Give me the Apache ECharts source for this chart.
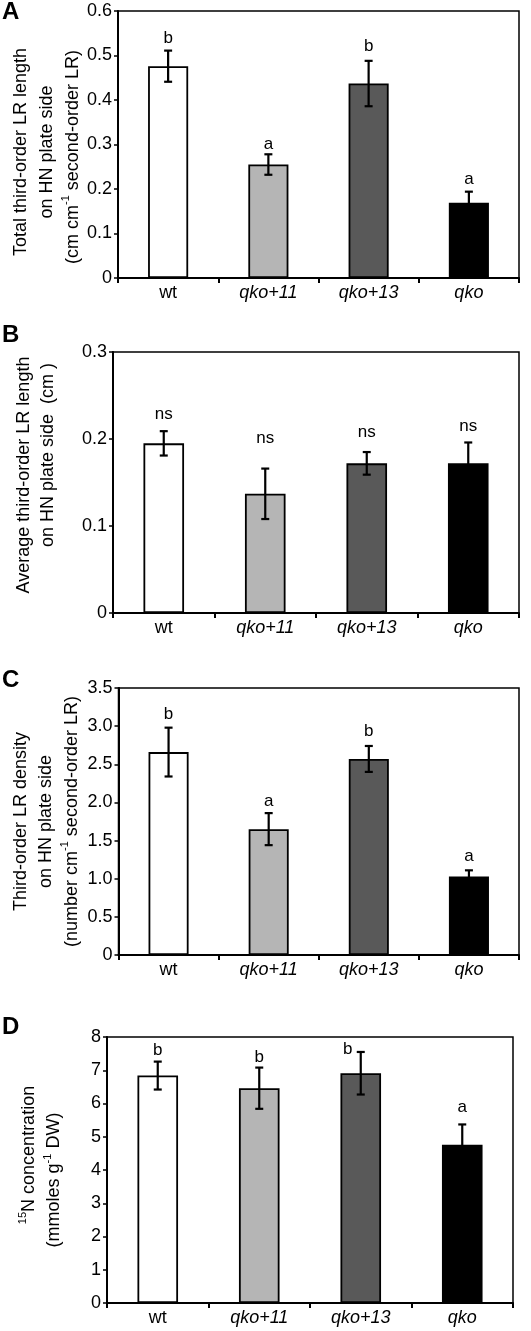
<!DOCTYPE html>
<html><head><meta charset="utf-8">
<script src="https://cdn.jsdelivr.net/npm/echarts@6/dist/echarts.min.js"></script>
<style>html,body{margin:0;padding:0;background:#fff}#c{width:531px;height:1331px}</style>
</head><body><div id="c"></div>
<script>
// ---- data ----
const categories = ['wt', 'qko+11', 'qko+13', 'qko'];

const meanA = [0.476, 0.255, 0.437, 0.169];
const errA  = [0.035, 0.023, 0.051, 0.025];
const lettersA = ['b', 'a', 'b', 'a'];
const ticksA = ['0', '0.1', '0.2', '0.3', '0.4', '0.5', '0.6'];

const meanB = [0.195, 0.137, 0.172, 0.172];
const errB  = [0.014, 0.029, 0.013, 0.024];
const lettersB = ['ns', 'ns', 'ns', 'ns'];
const ticksB = ['0', '0.1', '0.2', '0.3'];

const meanC = [2.66, 1.65, 2.57, 1.03];
const errC  = [0.32, 0.21, 0.17, 0.08];
const lettersC = ['b', 'a', 'b', 'a'];
const ticksC = ['0', '0.5', '1.0', '1.5', '2.0', '2.5', '3.0', '3.5'];

const meanD = [6.84, 6.46, 6.91, 4.76];
const errD  = [0.42, 0.62, 0.64, 0.61];
const lettersD = ['b', 'b', 'b', 'a'];
const ticksD = ['0', '1', '2', '3', '4', '5', '6', '7', '8'];

// ---- styles / layout ----
const barColors = ['#ffffff', '#b5b5b5', '#595959', '#000000'];
const FONT = '"Liberation Sans", Arial, sans-serif';
const sp = n => '\u00a0'.repeat(n);

const panels = [
  { key: 'A', mean: meanA, err: errA, letters: lettersA, ticks: ticksA, interval: 0.1,
    grid: { left: 113, right: 12, top: 11, height: 267 },
    name: 'Total third-order LR length' + sp(3) + '\non HN plate side' + sp(3) + '\n(cm cm{sup|-1} second-order LR)' + sp(5),
    nameGap: 32, lineHeight: 26, labelY: 12,
    gaps: [12, 10, 15, 12], dx: [0, 0, 0, 0] },
  { key: 'B', mean: meanB, err: errB, letters: lettersB, ticks: ticksB, interval: 0.1,
    grid: { left: 113, right: 12, top: 352, height: 261 },
    name: sp(3) + 'Average third-order LR length\n' + sp(11) + 'on HN plate side  (cm )',
    nameGap: 53, lineHeight: 24, labelY: 335,
    gaps: [17, 30, 20, 16], dx: [0, 0, 0, 0] },
  { key: 'C', mean: meanC, err: errC, letters: lettersC, ticks: ticksC, interval: 0.5,
    grid: { left: 108, right: 12, top: 688, height: 267 },
    name: 'Third-order LR density\non HN plate side\n(number cm{sup|-1} second-order LR)',
    nameGap: 34, lineHeight: 25.5, labelY: 680,
    gaps: [13, 12, 15, 14], dx: [0, 0, 0, 0] },
  { key: 'D', mean: meanD, err: errD, letters: lettersD, ticks: ticksD, interval: 1,
    grid: { left: 107, right: 18, top: 1037, height: 266 },
    name: sp(6) + '{sup|15}N concentration\n(mmoles g{sup|-1} DW)' + sp(4),
    nameGap: 40, lineHeight: 25, labelY: 1027,
    gaps: [11, 10, 3, 17], dx: [0, 0, -13, 0] }
];

const grids = [], xAxes = [], yAxes = [], series = [], graphics = [];

panels.forEach((p, k) => {
  grids.push(Object.assign({ show: true, borderColor: '#000', borderWidth: 1.5, backgroundColor: 'transparent', containLabel: false }, p.grid));
  xAxes.push({
    type: 'category', gridIndex: k, data: categories, boundaryGap: true,
    axisLine: { lineStyle: { color: '#000', width: 2 } },
    axisTick: { show: true, interval: 0, length: 5, lineStyle: { color: '#000', width: 2 } },
    axisLabel: {
      interval: 0, margin: 6, color: '#000', fontFamily: FONT, fontSize: 18,
      formatter: v => v === 'wt' ? v : '{i|' + v + '}',
      rich: { i: { fontStyle: 'italic', fontFamily: FONT, fontSize: 18, color: '#000' } }
    }
  });
  const ymax = p.interval * (p.ticks.length - 1);
  yAxes.push({
    type: 'value', gridIndex: k, min: 0, max: ymax, interval: p.interval,
    splitLine: { show: false },
    axisLine: { show: true, lineStyle: { color: '#000', width: 2 } },
    axisTick: { show: true, length: 4, lineStyle: { color: '#000', width: 1.5 } },
    axisLabel: {
      margin: 6, color: '#000', fontFamily: FONT, fontSize: 18,
      formatter: v => p.ticks[Math.round(v / p.interval)]
    },
    name: p.name, nameLocation: 'middle', nameRotate: 90, nameGap: p.nameGap,
    nameMoveOverlap: false,
    nameTextStyle: {
      color: '#000', fontFamily: FONT, fontSize: 18, lineHeight: p.lineHeight, align: 'center',
      rich: { sup: { fontSize: 11, fontFamily: FONT, color: '#000', verticalAlign: 'top', lineHeight: 14 } }
    }
  });
  series.push({
    type: 'bar', xAxisIndex: k, yAxisIndex: k, barWidth: '40%',
    data: p.mean.map((v, i) => ({ value: v, itemStyle: { color: barColors[i] } })),
    itemStyle: { borderColor: '#000', borderWidth: 1.8 },
    silent: true, animation: false, z: 2
  });
  series.push({
    type: 'custom', xAxisIndex: k, yAxisIndex: k, z: 5, silent: true, animation: false,
    data: p.mean.map((v, i) => [i, v, p.err[i]]),
    renderItem: (params, api) => {
      const i = api.value(0), m = api.value(1), e = api.value(2);
      const top = api.coord([i, m + e]);
      const bot = api.coord([i, m - e]);
      const w = 4;
      const ls = { stroke: '#000', lineWidth: 2.2 };
      return {
        type: 'group',
        children: [
          { type: 'line', shape: { x1: top[0], y1: top[1], x2: bot[0], y2: bot[1] }, style: ls },
          { type: 'line', shape: { x1: top[0] - w, y1: top[1], x2: top[0] + w, y2: top[1] }, style: ls },
          { type: 'line', shape: { x1: bot[0] - w, y1: bot[1], x2: bot[0] + w, y2: bot[1] }, style: ls },
          { type: 'text', x: top[0] + p.dx[i], y: top[1] - p.gaps[i],
            style: { text: p.letters[i], fill: '#000', font: '17px ' + FONT, textAlign: 'center', textVerticalAlign: 'middle' } }
        ]
      };
    }
  });
  graphics.push({
    type: 'text', left: 2, top: p.labelY - 12,
    style: { text: p.key, fill: '#000', font: 'bold 24px ' + FONT }
  });
});

const chart = echarts.init(document.getElementById('c'), null, { renderer: 'canvas' });
chart.setOption({
  animation: false,
  backgroundColor: '#fff',
  grid: grids, xAxis: xAxes, yAxis: yAxes, series: series, graphic: graphics
});
</script>
</body></html>
